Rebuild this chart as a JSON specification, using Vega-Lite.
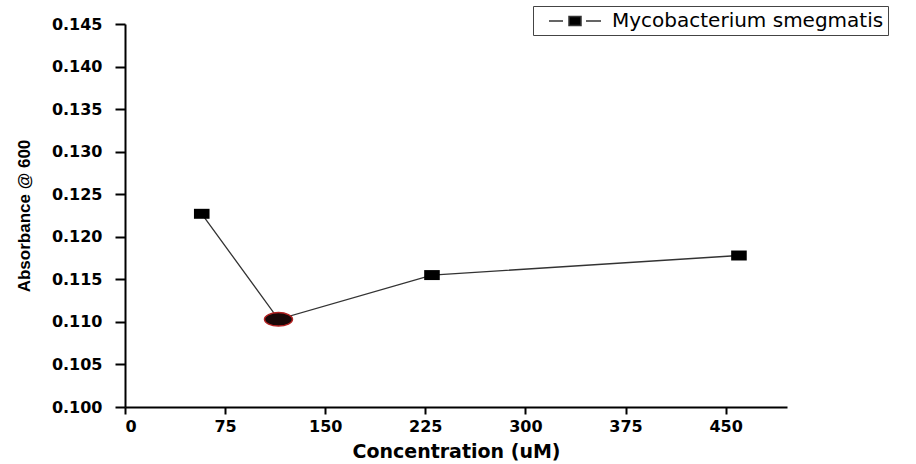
{
  "$schema": "https://vega.github.io/schema/vega-lite/v6.json",
  "width": 662,
  "height": 383,
  "autosize": {"type": "none"},
  "padding": {"left": 125, "top": 24, "right": 129, "bottom": 57},
  "background": "white",
  "config": {
    "view": {"stroke": null},
    "axis": {
      "grid": false,
      "domainColor": "black",
      "tickColor": "black",
      "domainWidth": 2,
      "tickWidth": 2,
      "labelFont": "DejaVu Sans",
      "labelFontWeight": "bold",
      "labelFontSize": 16,
      "labelColor": "black",
      "titleColor": "black"
    }
  },
  "data": {
    "values": [
      {"concentration": 57.5, "absorbance": 0.1227, "series": "Mycobacterium smegmatis"},
      {"concentration": 115, "absorbance": 0.1103, "series": "Mycobacterium smegmatis"},
      {"concentration": 230, "absorbance": 0.1155, "series": "Mycobacterium smegmatis"},
      {"concentration": 460, "absorbance": 0.1178, "series": "Mycobacterium smegmatis"}
    ]
  },
  "encoding": {
    "x": {
      "field": "concentration",
      "type": "quantitative",
      "scale": {"domain": [0, 496], "nice": false, "zero": false},
      "axis": {
        "values": [0, 75, 150, 225, 300, 375, 450],
        "title": "Concentration (uM)",
        "titleFont": "DejaVu Sans",
        "titleFontWeight": "bold",
        "titleFontSize": 19,
        "tickSize": 7,
        "labelPadding": 4,
        "titlePadding": 8
      }
    },
    "y": {
      "field": "absorbance",
      "type": "quantitative",
      "scale": {"domain": [0.1, 0.145], "nice": false, "zero": false},
      "axis": {
        "values": [0.1, 0.105, 0.11, 0.115, 0.12, 0.125, 0.13, 0.135, 0.14, 0.145],
        "format": ".3f",
        "title": "Absorbance @ 600",
        "titleFont": "Liberation Sans",
        "titleFontWeight": "bold",
        "titleFontSize": 17,
        "tickSize": 10,
        "labelPadding": 13,
        "titlePadding": 18
      }
    }
  },
  "layer": [
    {
      "mark": {"type": "line", "strokeWidth": 1.3},
      "encoding": {
        "color": {
          "field": "series",
          "type": "nominal",
          "scale": {"range": ["#333333"]},
          "legend": {
            "title": null,
            "orient": "none",
            "legendX": 408,
            "legendY": -18,
            "strokeColor": "#444444",
            "fillColor": "white",
            "padding": 4,
            "symbolType": "M0.1,0H1.5M3.8,0H5.3M2.1,-0.45H3.3V0.45H2.1Z",
            "symbolSize": 400,
            "symbolStrokeWidth": 1.5,
            "labelFont": "DejaVu Sans",
            "labelFontSize": 20,
            "labelColor": "black",
            "labelOffset": 53,
            "labelLimit": 500,
            "encode": {
              "symbols": {
                "update": {
                  "fill": {"value": "black"},
                  "stroke": {"value": "#222222"},
                  "strokeWidth": {"value": 1.5},
                  "opacity": {"value": 1}
                }
              }
            }
          }
        }
      }
    },
    {
      "transform": [{"filter": "datum.concentration != 115"}],
      "mark": {
        "type": "point",
        "shape": "M-1,-0.64H1V0.64H-1Z",
        "filled": true,
        "color": "black",
        "size": 243,
        "opacity": 1
      }
    },
    {
      "transform": [{"filter": "datum.concentration == 115"}],
      "mark": {
        "type": "point",
        "shape": "M-1,0A1,0.48 0 1,0 1,0A1,0.48 0 1,0 -1,0Z",
        "filled": true,
        "fill": "#1a0808",
        "stroke": "#b22222",
        "strokeWidth": 1.5,
        "size": 784,
        "opacity": 1
      }
    }
  ]
}
